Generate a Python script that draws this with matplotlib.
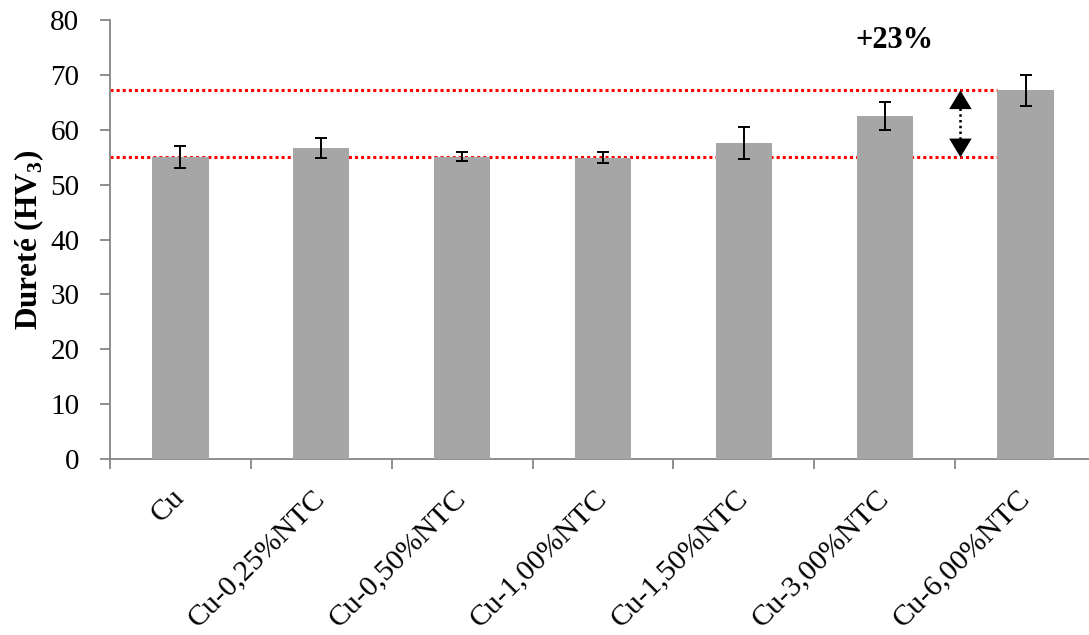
import matplotlib
matplotlib.use("Agg")
import matplotlib.pyplot as plt
import numpy as np

# Données : dureté Vickers (HV3) des composites Cu-NTC
categories = ["Cu", "Cu-0,25%NTC", "Cu-0,50%NTC", "Cu-1,00%NTC",
              "Cu-1,50%NTC", "Cu-3,00%NTC", "Cu-6,00%NTC"]
durete = [55.0, 56.7, 55.1, 54.9, 57.6, 62.5, 67.2]
erreurs = [2.0, 1.8, 0.8, 1.0, 2.9, 2.5, 2.8]
gain_label = "+23%"

plt.rcParams["font.family"] = ["Liberation Serif", "DejaVu Serif"]
plt.rcParams["mathtext.fontset"] = "custom"
plt.rcParams["mathtext.rm"] = "Liberation Serif"
plt.rcParams["mathtext.bf"] = "Liberation Serif:bold"

fig = plt.figure(figsize=(10.89, 6.35), dpi=100)
ax = fig.add_axes([0.101, 0.277, 0.9055, 0.6913])

largeur = 0.4
x = np.arange(len(categories))
ax.bar(x, durete, width=largeur, color="#a6a6a6", zorder=3)
ax.errorbar(x, durete, yerr=erreurs, fmt="none", ecolor="black",
            elinewidth=1.4, capsize=4.5, capthick=1.4, zorder=4)

# lignes de référence (Cu pur et Cu-6,00%NTC), jusqu'à la dernière barre
ax.hlines([durete[0], durete[-1]], -0.5, x[-1] - largeur / 2,
          colors="#ff0000", linestyles=[(0, (1, 1))], linewidth=2.2, zorder=2)

# flèche double pointillée
xa = 5.537
ax.plot([xa, xa], [durete[0] + 2.3, durete[-1] - 2.3], color="black",
        linestyle=(0, (1, 1.3)), linewidth=1.8, zorder=5)
ax.annotate("", xy=(xa, durete[-1]), xytext=(xa, durete[0]),
            arrowprops=dict(arrowstyle="<|-|>,head_length=0.5,head_width=0.3",
                            color="black", lw=0, mutation_scale=27,
                            shrinkA=0, shrinkB=0), zorder=5)
ax.text(5.07, 76.2, gain_label, ha="center", va="center",
        fontsize=22, fontweight="bold")

ax.set_xlim(-0.5, len(categories) - 0.5)
ax.set_ylim(0, 80)
ax.set_yticks(range(0, 81, 10))
ax.tick_params(axis="y", labelsize=21, length=7, width=1.3, color="#868686", pad=15)

ax.set_xticks(x)
ax.set_xticklabels(categories, rotation=45, ha="right", va="center",
                   rotation_mode="anchor", fontsize=21.5)
ax.tick_params(axis="x", length=0, pad=25)
ax.set_xticks(np.arange(-0.5, len(categories), 1.0), minor=True)
ax.tick_params(axis="x", which="minor", length=7, width=1.3, color="#868686")

for s in ("top", "right"):
    ax.spines[s].set_visible(False)
for s in ("left", "bottom"):
    ax.spines[s].set_color("#868686")
    ax.spines[s].set_linewidth(1.3)

ax.set_ylabel(r"Dureté (HV$_\mathbf{3}$)", fontsize=22.5, fontweight="bold", labelpad=3)

fig.savefig("out.png", dpi=100)
